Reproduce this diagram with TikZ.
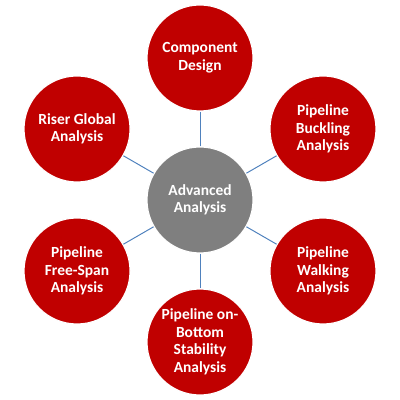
\documentclass[tikz,border=0pt]{standalone}
\usepackage{fontspec}
\setmainfont{Carlito}
\definecolor{hubgray}{HTML}{7F7F7F}
\definecolor{topicred}{HTML}{C00000}
\definecolor{linkblue}{HTML}{4F81BD}
\tikzset{
	hub/.style={circle, fill=hubgray, draw=white, line width=0.8pt, minimum size=2.65cm, inner sep=0pt, align=center, text=white, font=\fontsize{11}{12.5}\selectfont\bfseries},
	topic/.style={circle, fill=topicred, draw=white, line width=0.8pt, minimum size=2.65cm, inner sep=0pt, align=center, text=white, font=\fontsize{11}{12.5}\selectfont\bfseries},
	link/.style={draw=linkblue, line width=0.7pt}
}
\begin{document}
\begin{tikzpicture}
	\useasboundingbox (-5, -5) rectangle (5, 5);
	% Hub and topics:
	\node[hub] (advanced) at (0, 0){Advanced\\Analysis};
	\node[topic] (component) at (90:3.55){Component\\Design};
	\node[topic] (buckling) at (30:3.55){Pipeline\\Buckling\\Analysis};
	\node[topic] (walking) at (-30:3.55){Pipeline\\Walking\\Analysis};
	\node[topic] (stability) at (-90:3.55){Pipeline on-\\Bottom\\Stability\\Analysis};
	\node[topic] (freespan) at (-150:3.55){Pipeline\\Free-Span\\Analysis};
	\node[topic] (riser) at (150:3.55){Riser Global\\Analysis};
	% Links:
	\draw[link] (advanced) -- (component);
	\draw[link] (advanced) -- (buckling);
	\draw[link] (advanced) -- (walking);
	\draw[link] (advanced) -- (stability);
	\draw[link] (advanced) -- (freespan);
	\draw[link] (advanced) -- (riser);
\end{tikzpicture}
\end{document}
